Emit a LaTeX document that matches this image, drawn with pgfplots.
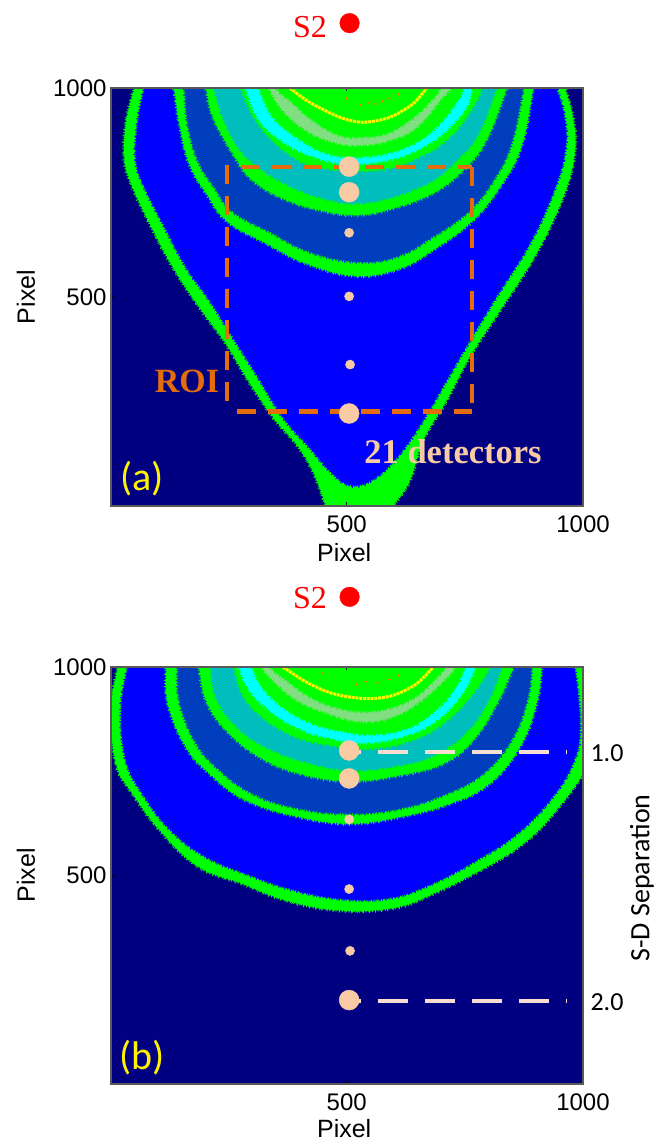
\documentclass[border=0pt]{standalone}
\usepackage{pgfplots}
\pgfplotsset{compat=1.18}
\usepackage{fontspec}
\setmainfont{Liberation Sans}
\newfontfamily\serifsf{Liberation Serif}
\newfontfamily\calsf{Carlito}
\definecolor{navy}{RGB}{0,0,128}
\definecolor{fblue}{RGB}{0,0,255}
\definecolor{midblue}{RGB}{0,62,190}
\definecolor{teal2}{RGB}{0,190,190}
\definecolor{cyan2}{RGB}{0,255,255}
\definecolor{green2}{RGB}{0,255,0}
\definecolor{pale}{RGB}{130,222,130}
\definecolor{roi}{RGB}{228,108,10}
\definecolor{peach}{RGB}{248,203,165}
\definecolor{dashp}{RGB}{248,222,210}
\definecolor{spot}{RGB}{235,130,20}
\newcommand{\layer}[2]{%
\addplot[fill=#1,draw=#1,line width=1.6pt,dash pattern=on 1.1pt off 1.3pt,smooth,tension=0.7,forget plot] coordinates {#2} -- cycle;
\addplot[draw=#1,line width=3.4pt,dash pattern=on 0.7pt off 2.6pt,smooth,tension=0.7,forget plot] coordinates {#2};
\addplot[draw=#1,line width=4.6pt,dash pattern=on 0.7pt off 5.3pt,smooth,tension=0.7,forget plot] coordinates {#2};
}
\pgfplotsset{
  panel/.style={
    scale only axis,width=472pt,height=418pt,
    xmin=1,xmax=1000,ymin=1,ymax=1000,
    xtick={500,1000},ytick={500,1000},
    tick align=inside,major tick length=3.5pt,
    tick style={black,line width=0.8pt},
    axis on top,
    axis line style={draw=black!65,line width=1.1pt},
    axis background/.style={fill=navy},
    /pgf/number format/assume math mode=true,
    /pgf/number format/set thousands separator={},
    ticklabel style={font=\fontsize{24}{28}\selectfont},
    xticklabel style={yshift=-6pt},
    yticklabel style={xshift=-1pt},
    label style={font=\fontsize{25}{29}\selectfont},
    xlabel={Pixel},ylabel={Pixel},
    xlabel style={at={(axis description cs:0.494,-0.112)},anchor=center},
    ylabel style={at={(axis description cs:-0.18,0.5)},anchor=center,rotate=0},
  },
  overlay/.style={
    scale only axis,width=472pt,height=418pt,
    xmin=1,xmax=1000,ymin=1,ymax=1000,hide axis,clip=false,
  }
}
\begin{document}
\begin{tikzpicture}[x=1pt,y=1pt]
\path[use as bounding box] (0,0) rectangle (665,1142);
% ---------- panel (a)
\begin{axis}[panel,at={(111pt,636pt)},anchor=south west]
\layer{green2}{(60,1040)(51,1000)(33,916)(30,828)(47,764)(83,677)(132,573)(188,477)(245,389)(287,310)(344,214)(393,150)(428,86)(457,0)(470,-40)(590,-40)(598,0)(633,62)(661,158)(711,254)(760,358)(824,469)(901,605)(958,741)(982,844)(979,924)(961,1000)(950,1040)}
\layer{fblue}{(80,1040)(72,1000)(58,916)(54,828)(72,764)(111,677)(160,573)(210,493)(259,405)(308,318)(365,214)(421,142)(471,78)(513,50)(562,70)(612,126)(661,206)(711,302)(760,397)(816,501)(887,629)(936,749)(961,844)(961,924)(943,1000)(930,1040)}
\layer{green2}{(128,1040)(135,1000)(146,916)(167,820)(203,749)(248,681)(330,629)(414,581)(520,551)(612,569)(682,613)(764,681)(824,764)(869,860)(894,1000)(900,1040)}
\layer{midblue}{(150,1040)(157,1000)(164,916)(185,828)(220,764)(259,705)(337,657)(421,609)(520,585)(605,597)(682,645)(757,705)(810,780)(848,868)(873,1000)(880,1040)}
\layer{green2}{(195,1040)(203,1000)(217,932)(259,844)(301,780)(372,733)(457,705)(527,697)(598,713)(682,749)(746,804)(795,876)(838,1000)(850,1040)}
\layer{teal2}{(212,1040)(220,1000)(238,932)(273,856)(322,804)(393,760)(464,733)(527,725)(598,741)(675,776)(732,828)(778,892)(816,1000)(826,1040)}
\layer{green2}{(268,1040)(277,1000)(308,924)(351,868)(414,820)(499,804)(584,808)(654,836)(718,884)(767,956)(785,1000)(795,1040)}
\layer{cyan2}{(278,1040)(287,1000)(315,924)(361,876)(421,840)(499,820)(584,828)(654,856)(711,900)(753,956)(764,1000)(774,1040)}
\layer{green2}{(305,1040)(315,1000)(344,932)(393,884)(450,848)(506,836)(584,844)(648,872)(697,916)(735,972)(746,1000)(756,1040)}
\layer{pale}{(325,1040)(337,1000)(365,948)(414,900)(471,872)(527,864)(591,876)(648,908)(697,972)(718,1000)(730,1040)}
\layer{green2}{(340,1040)(351,1000)(386,966)(428,924)(485,888)(534,884)(584,892)(633,924)(676,968)(697,1000)(708,1040)}
\addplot[yellow,line width=3pt,dash pattern=on 3pt off 0.8pt,smooth,forget plot] coordinates {(379,1000)(421,966)(485,930)(534,918)(591,930)(640,962)(669,1000)};
\addplot[only marks,mark=*,mark size=1pt,mark options={draw=spot,fill=spot},forget plot] coordinates {(530,960)(545,965)(560,962)(575,968)(590,975)(610,985)(500,975)};
\end{axis}
\begin{axis}[overlay,at={(111pt,636pt)},anchor=south west]
% detectors
\addplot[only marks,mark=*,mark size=10pt,mark options={draw=peach,fill=peach},forget plot] coordinates {(505,812)(505,751)(505,222)};
\addplot[only marks,mark=*,mark size=4.6pt,mark options={draw=peach,fill=peach},forget plot] coordinates {(505,654)(505,502)(507,339)};
% ROI
\addplot[roi,line width=4.3pt,dash pattern=on 19pt off 12pt,forget plot] coordinates {(276,812)(765,812)};
\addplot[roi,line width=4.3pt,dash pattern=on 19pt off 12pt,forget plot] coordinates {(246,816)(246,235)};
\addplot[roi,line width=4.3pt,dash pattern=on 19pt off 12pt,forget plot] coordinates {(765,812)(765,227)};
\addplot[roi,line width=4.3pt,dash pattern=on 19pt off 12pt,forget plot] coordinates {(267,227)(765,227)};
% source
\addplot[only marks,mark=*,mark size=9.8pt,mark options={draw=red,fill=red},forget plot] coordinates {(506,1155)};
\end{axis}
% ---------- panel (b)
\begin{axis}[panel,height=417pt,at={(111pt,58pt)},anchor=south west,
  xlabel style={at={(axis description cs:0.494,-0.108)}}]
\layer{green2}{(22,1040)(16,1000)(1,896)(12,769)(47,697)(111,601)(188,521)(280,481)(372,441)(485,417)(598,423)(682,457)(788,517)(873,577)(943,657)(1010,769)(1040,900)(1040,1040)}
\layer{fblue}{(44,1040)(37,1000)(23,896)(33,777)(68,697)(128,609)(203,545)(287,505)(379,469)(485,445)(591,447)(682,482)(780,541)(859,600)(929,680)(978,769)(993,857)(982,1000)(975,1040)}
\layer{green2}{(115,1040)(118,1000)(122,912)(160,809)(210,745)(287,681)(400,641)(506,625)(612,641)(718,673)(802,721)(866,809)(901,912)(912,1000)(915,1040)}
\layer{midblue}{(141,1040)(143,1000)(146,920)(178,825)(224,761)(301,697)(400,661)(506,649)(612,661)(711,697)(788,745)(848,825)(881,920)(891,1000)(894,1040)}
\layer{green2}{(182,1040)(188,1000)(203,920)(245,849)(315,785)(400,745)(506,727)(612,741)(704,769)(767,825)(817,912)(852,1000)(865,1040)}
\layer{teal2}{(208,1040)(213,1000)(224,928)(266,860)(329,809)(414,773)(506,753)(612,765)(690,793)(753,845)(799,920)(827,1000)(838,1040)}
\layer{green2}{(255,1040)(263,1000)(280,936)(322,880)(393,833)(471,813)(541,805)(626,821)(697,860)(760,928)(802,1000)(815,1040)}
\layer{cyan2}{(265,1040)(273,1000)(294,946)(336,898)(400,853)(471,829)(541,819)(626,837)(690,873)(743,936)(771,1000)(782,1040)}
\layer{green2}{(292,1040)(301,1000)(322,952)(365,905)(428,865)(499,845)(556,839)(626,853)(682,892)(725,944)(749,1000)(760,1040)}
\layer{pale}{(312,1040)(322,1000)(351,962)(400,918)(471,886)(534,870)(598,882)(654,918)(704,968)(728,1000)(740,1040)}
\layer{green2}{(328,1040)(340,1000)(372,970)(428,926)(485,902)(541,894)(598,905)(648,932)(690,976)(707,1000)(718,1040)}
\addplot[yellow,line width=3pt,dash pattern=on 3pt off 0.8pt,smooth,forget plot] coordinates {(365,1000)(414,964)(471,936)(541,924)(598,932)(648,960)(683,1000)};
\addplot[only marks,mark=*,mark size=1pt,mark options={draw=spot,fill=spot},forget plot] coordinates {(520,958)(540,965)(565,962)(590,970)(610,980)(450,985)};
\end{axis}
\begin{axis}[overlay,height=417pt,at={(111pt,58pt)},anchor=south west]
\addplot[only marks,mark=*,mark size=10pt,mark options={draw=peach,fill=peach},forget plot] coordinates {(505,800)(505,733)(505,202)};
\addplot[only marks,mark=*,mark size=4.6pt,mark options={draw=peach,fill=peach},forget plot] coordinates {(505,635)(505,468)(507,320)};
\addplot[dashp,line width=3.6pt,forget plot] coordinates {(505,797)(530,797)};
\addplot[dashp,line width=3.6pt,forget plot] coordinates {(505,200)(530,200)};
\addplot[dashp,line width=3.6pt,dash pattern=on 30pt off 17pt,forget plot] coordinates {(567,797)(965,797)};
\addplot[dashp,line width=3.6pt,dash pattern=on 30pt off 17pt,forget plot] coordinates {(567,200)(965,200)};
\addplot[only marks,mark=*,mark size=9.8pt,mark options={draw=red,fill=red},forget plot] coordinates {(506,1168)};
\end{axis}
% ---------- annotations
\node[red,font=\serifsf\fontsize{32}{36}\selectfont] at (310,1115) {S2};
\node[red,font=\serifsf\fontsize{32}{36}\selectfont] at (310,544) {S2};
\node[roi,font=\serifsf\bfseries\fontsize{34}{38}\selectfont] at (187,761) {ROI};
\node[peach,font=\serifsf\bfseries\fontsize{34.5}{38}\selectfont] at (453,690) {21 detectors};
\node[yellow,font=\calsf\fontsize{40}{44}\selectfont] at (142,663) {(a)};
\node[yellow,font=\calsf\fontsize{40}{44}\selectfont] at (142,84) {(b)};
\node[black,font=\calsf\fontsize{26}{30}\selectfont] at (607,389) {1.0};
\node[black,font=\calsf\fontsize{26}{30}\selectfont] at (607,140) {2.0};
\node[black,rotate=90,font=\calsf\fontsize{28}{32}\selectfont] at (642,264) {S-D Separation};
\end{tikzpicture}
\end{document}
